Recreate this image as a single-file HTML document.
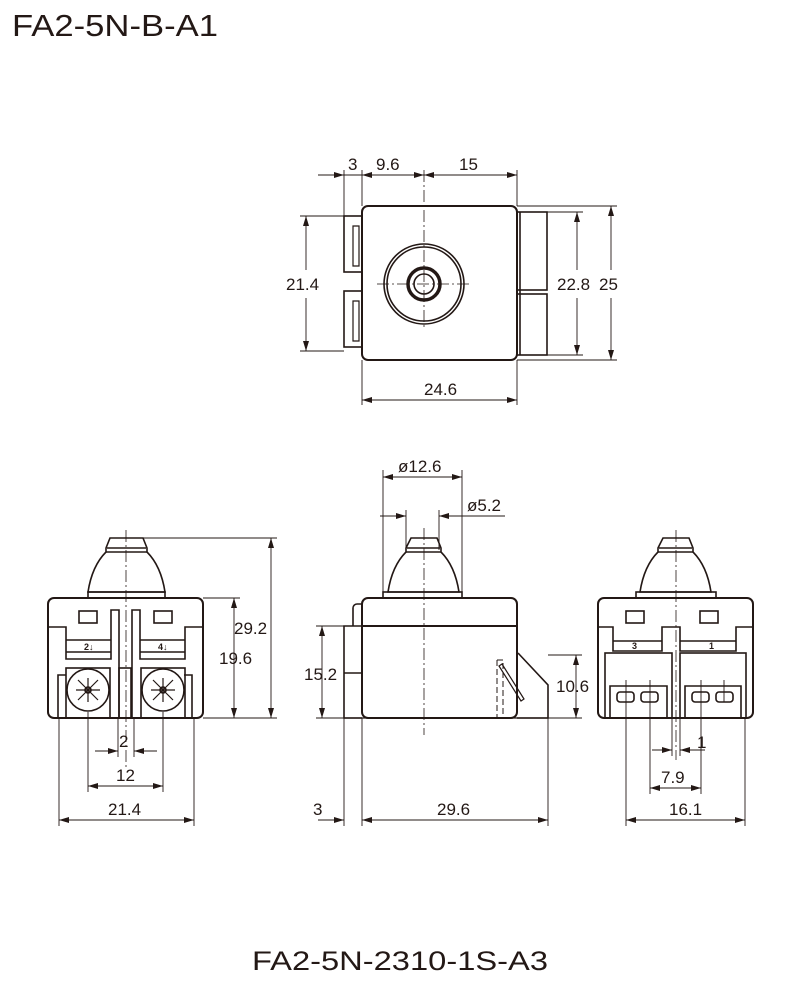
<!DOCTYPE html>
<html><head><meta charset="utf-8"><style>
html,body{margin:0;padding:0;background:#fff}
svg{display:block}
text{font-family:"Liberation Sans",sans-serif;fill:#231815}
</style></head><body>
<svg width="800" height="982" viewBox="0 0 800 982" xmlns="http://www.w3.org/2000/svg">
<defs>
<marker id="a" viewBox="0 0 10 6" refX="10" refY="3" markerWidth="10" markerHeight="6" orient="auto-start-reverse" markerUnits="userSpaceOnUse"><path d="M0,0L10,3L0,6z" fill="#231815"/></marker>
</defs>
<g stroke="#231815" fill="none" stroke-width="1.6">
<text x="12" y="36" font-size="31" stroke="none" textLength="206" lengthAdjust="spacingAndGlyphs">FA2-5N-B-A1</text>

<!-- TOP VIEW -->
<rect x="362" y="206" width="155" height="154" rx="6" stroke-width="2"/>
<rect x="344" y="216" width="18" height="56"/><rect x="344" y="291" width="18" height="56"/>
<path d="M353 226 h6 v40 h-6 z M353 301 h6 v40 h-6z" stroke-width="1.2"/>
<rect x="517" y="212" width="30" height="78"/><rect x="517" y="294" width="30" height="61"/>
<line x1="520" y1="212" x2="520" y2="355"/>
<circle cx="424" cy="284" r="40"/><circle cx="424" cy="284" r="37"/>
<circle cx="424" cy="284" r="16" stroke-width="3.5"/><circle cx="424" cy="284" r="10"/>
<g stroke-width="0.8" stroke-dasharray="12 3 2 3"><line x1="377" y1="284" x2="470" y2="284"/><line x1="424" y1="170" x2="424" y2="330"/></g>
<g stroke-width="0.9">
<line x1="318" y1="175" x2="517" y2="175"/>
<line x1="344" y1="170" x2="344" y2="216"/><line x1="362" y1="170" x2="362" y2="206"/><line x1="517" y1="170" x2="517" y2="206"/>
<line x1="318" y1="175" x2="344" y2="175" marker-end="url(#a)"/>
<line x1="362" y1="175" x2="390" y2="175" marker-start="url(#a)"/>
<line x1="400" y1="175" x2="424" y2="175" marker-end="url(#a)"/>
<line x1="424" y1="175" x2="450" y2="175" marker-start="url(#a)"/>
<line x1="490" y1="175" x2="517" y2="175" marker-end="url(#a)"/>
<line x1="300" y1="216" x2="344" y2="216"/><line x1="300" y1="351" x2="344" y2="351"/>
<line x1="306" y1="216" x2="306" y2="270" marker-start="url(#a)"/><line x1="306" y1="298" x2="306" y2="351" marker-end="url(#a)"/>
<line x1="547" y1="212" x2="583" y2="212"/><line x1="547" y1="355" x2="583" y2="355"/>
<line x1="517" y1="206" x2="617" y2="206"/><line x1="517" y1="360" x2="617" y2="360"/>
<line x1="577" y1="212" x2="577" y2="270" marker-start="url(#a)"/><line x1="577" y1="298" x2="577" y2="355" marker-end="url(#a)"/>
<line x1="611" y1="206" x2="611" y2="270" marker-start="url(#a)"/><line x1="611" y1="298" x2="611" y2="360" marker-end="url(#a)"/>
<line x1="362" y1="360" x2="362" y2="405"/><line x1="517" y1="360" x2="517" y2="405"/>
<line x1="362" y1="400" x2="517" y2="400" marker-start="url(#a)" marker-end="url(#a)"/>
</g>
<g stroke="none" font-size="17">
<text x="348" y="170">3</text><text x="376" y="170">9.6</text><text x="459" y="170">15</text>
<text x="286" y="290">21.4</text><text x="557" y="290">22.8</text><text x="599" y="290">25</text>
<text x="424" y="395">24.6</text>
</g>

<!-- LEFT FRONT VIEW -->
<path d="M110 538 h33 l4 10 v4 l0 0 q14 14 18 40 h-77 q4 -26 18 -40 v-4 z"/>
<line x1="107" y1="548" x2="146" y2="548"/><line x1="106" y1="552" x2="147" y2="552"/>
<rect x="88" y="592" width="77" height="6"/>
<rect x="48" y="598" width="155" height="120" rx="6" stroke-width="2"/>
<path d="M48 627 h18 v32 h45 v-49 h8 v108 M203 627 h-18 v32 h-45 v-49 h-8 v108"/>
<line x1="66" y1="640" x2="111" y2="640"/><line x1="140" y1="640" x2="185" y2="640"/>
<line x1="66" y1="652" x2="111" y2="652"/><line x1="140" y1="652" x2="185" y2="652"/>
<rect x="79" y="611" width="18" height="12"/><rect x="154" y="611" width="18" height="12"/>
<text x="84" y="650" font-size="9" stroke="none" font-weight="bold">2↓</text>
<text x="158" y="650" font-size="9" stroke="none" font-weight="bold">4↓</text>
<path d="M58 718 v-43 h8 M192 718 v-43 h-8"/>
<rect x="66" y="668" width="44" height="50"/><rect x="141" y="668" width="44" height="50"/>
<rect x="119" y="668" width="12" height="50"/>
<circle cx="88" cy="690" r="21"/><circle cx="163" cy="690" r="21"/>
<g stroke-width="1.2">
<path d="M78 680 L98 700 M98 680 L78 700 M76 690 h24 M88 678 v24"/>
<path d="M153 680 L173 700 M173 680 L153 700 M151 690 h24 M163 678 v24"/>
</g>
<circle cx="88" cy="690" r="3"/><circle cx="163" cy="690" r="3"/>
<g stroke-width="0.8" stroke-dasharray="12 3 2 3"><line x1="126" y1="530" x2="126" y2="770"/></g>
<g stroke-width="0.9">
<line x1="143" y1="538" x2="277" y2="538"/><line x1="203" y1="598" x2="240" y2="598"/><line x1="203" y1="718" x2="277" y2="718"/>
<line x1="271" y1="538" x2="271" y2="718" marker-start="url(#a)" marker-end="url(#a)"/>
<line x1="234" y1="598" x2="234" y2="718" marker-start="url(#a)" marker-end="url(#a)"/>
<line x1="118" y1="718" x2="118" y2="757"/><line x1="134" y1="718" x2="134" y2="757"/>
<line x1="95" y1="751" x2="118" y2="751" marker-end="url(#a)"/><line x1="134" y1="751" x2="157" y2="751" marker-start="url(#a)"/>
<line x1="88" y1="712" x2="88" y2="792"/><line x1="163" y1="712" x2="163" y2="792"/>
<line x1="88" y1="786" x2="163" y2="786" marker-start="url(#a)" marker-end="url(#a)"/>
<line x1="59" y1="718" x2="59" y2="826"/><line x1="194" y1="718" x2="194" y2="826"/>
<line x1="59" y1="820" x2="194" y2="820" marker-start="url(#a)" marker-end="url(#a)"/>
</g>
<g stroke="none" font-size="17">
<text x="234" y="634">29.2</text><text x="219" y="664">19.6</text>
<text x="119" y="747">2</text><text x="116" y="781">12</text><text x="108" y="815">21.4</text>
</g>

<!-- MIDDLE SIDE VIEW -->
<path d="M411 538 h26 l4 10 v4 q14 14 18 40 h-71 q4 -26 18 -40 v-4 z"/>
<line x1="407" y1="548" x2="440" y2="548"/><line x1="406" y1="552" x2="441" y2="552"/>
<rect x="383" y="592" width="79" height="6"/>
<rect x="362" y="598" width="155" height="120" rx="6" stroke-width="2"/>
<line x1="362" y1="626" x2="517" y2="626" stroke-width="2"/>
<path d="M362 604 h-5 a4 4 0 0 0 -4 4 v18"/>
<path d="M362 626 h-18 v92 h18 M344 673 h18"/>
<path d="M518 653 l30 32 v33 h-31"/>
<path d="M497 660 h6 v58 M497 660 v58" stroke-dasharray="6 3" stroke-width="1"/>
<path d="M502 664 l22 35 l-3 2 l-22 -35 z" stroke-width="1.2"/>
<line x1="344" y1="718" x2="548" y2="718" stroke-width="1.2"/>
<g stroke-width="0.8" stroke-dasharray="12 3 2 3"><line x1="424" y1="528" x2="424" y2="735"/></g>
<g stroke-width="0.9">
<line x1="383" y1="470" x2="383" y2="592"/><line x1="462" y1="470" x2="462" y2="592"/>
<line x1="383" y1="477" x2="462" y2="477" marker-start="url(#a)" marker-end="url(#a)"/>
<line x1="406" y1="510" x2="406" y2="550"/><line x1="439" y1="510" x2="439" y2="550"/>
<line x1="380" y1="516" x2="406" y2="516" marker-end="url(#a)"/>
<line x1="439" y1="516" x2="505" y2="516" marker-start="url(#a)"/>
<line x1="316" y1="626" x2="344" y2="626"/><line x1="316" y1="718" x2="344" y2="718"/>
<line x1="322" y1="626" x2="322" y2="718" marker-start="url(#a)" marker-end="url(#a)"/>
<line x1="548" y1="655" x2="582" y2="655"/><line x1="548" y1="718" x2="582" y2="718"/>
<line x1="576" y1="655" x2="576" y2="718" marker-start="url(#a)" marker-end="url(#a)"/>
<line x1="344" y1="718" x2="344" y2="826"/><line x1="362" y1="718" x2="362" y2="826"/><line x1="548" y1="718" x2="548" y2="826"/>
<line x1="318" y1="820" x2="344" y2="820" marker-end="url(#a)"/>
<line x1="362" y1="820" x2="548" y2="820" marker-start="url(#a)" marker-end="url(#a)"/>
</g>
<g stroke="none" font-size="17">
<text x="398" y="472">ø12.6</text><text x="467" y="511">ø5.2</text>
<text x="304" y="680">15.2</text><text x="556" y="692">10.6</text>
<text x="313" y="815">3</text><text x="437" y="815">29.6</text>
</g>

<!-- RIGHT VIEW -->
<path d="M663 538 h26 l4 10 v4 q14 14 18 40 h-71 q4 -26 18 -40 v-4 z"/>
<line x1="659" y1="548" x2="692" y2="548"/><line x1="658" y1="552" x2="693" y2="552"/>
<rect x="636" y="592" width="80" height="6"/>
<rect x="598" y="598" width="155" height="120" rx="6" stroke-width="2"/>
<path d="M598 627 h15 v24 h49 v-24 h18 v24 h56 v-24 h17"/>
<path d="M613 641 h49 M680 641 h56"/>
<rect x="626" y="611" width="18" height="12"/><rect x="700" y="611" width="18" height="12"/>
<text x="632" y="649" font-size="9" stroke="none" font-weight="bold">3</text>
<text x="709" y="649" font-size="9" stroke="none" font-weight="bold">1</text>
<rect x="605" y="653" width="67" height="65"/><rect x="680" y="653" width="66" height="65"/>
<path d="M610 718 v-32 h57 v32 M685 718 v-32 h56 v32"/>
<rect x="617" y="692" width="17" height="10" rx="3"/><rect x="641" y="692" width="17" height="10" rx="3"/>
<rect x="692" y="692" width="17" height="10" rx="3"/><rect x="716" y="692" width="17" height="10" rx="3"/>
<g stroke-width="0.8" stroke-dasharray="12 3 2 3"><line x1="676" y1="530" x2="676" y2="760"/></g>
<g stroke-width="0.9">
<line x1="626" y1="680" x2="626" y2="826"/><line x1="650" y1="680" x2="650" y2="794"/>
<line x1="701" y1="680" x2="701" y2="794"/><line x1="724" y1="680" x2="724" y2="702"/>
<line x1="672" y1="700" x2="672" y2="756"/><line x1="680" y1="700" x2="680" y2="756"/>
<line x1="652" y1="750" x2="672" y2="750" marker-end="url(#a)"/><line x1="680" y1="750" x2="705" y2="750" marker-start="url(#a)"/>
<line x1="650" y1="788" x2="701" y2="788" marker-start="url(#a)" marker-end="url(#a)"/>
<line x1="745" y1="718" x2="745" y2="826"/>
<line x1="626" y1="820" x2="745" y2="820" marker-start="url(#a)" marker-end="url(#a)"/>
</g>
<g stroke="none" font-size="17">
<text x="697" y="748">1</text><text x="661" y="783">7.9</text><text x="669" y="815">16.1</text>
</g>

<text x="252" y="970" font-size="27" stroke="none" textLength="296" lengthAdjust="spacingAndGlyphs">FA2-5N-2310-1S-A3</text>
</g>
</svg>
</body></html>
